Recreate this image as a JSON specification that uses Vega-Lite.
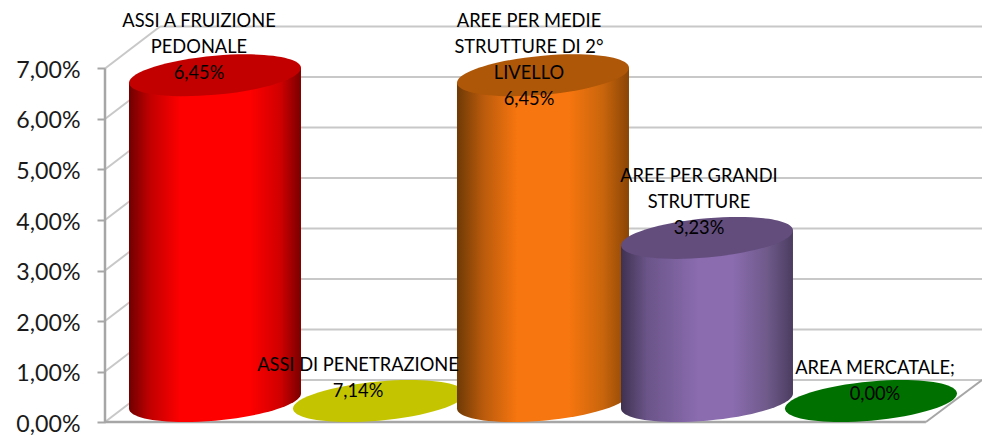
{
"$schema":"https://vega.github.io/schema/vega-lite/v6.json",
"width":877,"height":435,"padding":{"left":105,"top":0,"right":0,"bottom":0},"autosize":{"type":"none"},
"background":"white",
"config":{"view":{"stroke":null},"axisY":{"domain":false,"grid":false,"title":null,"labelFont":"Lato","labelFontSize":23.2,"labelOffset":2,"labelColor":"#1a1a1a","labelPadding":17,"labelFlush":false,"labelOverlap":false,"tickSize":8,"tickWidth":2,"tickColor":"#a6a6a6"}},
"datasets":{
"bars":[
{"i":0,"name":"ASSI A FRUIZIONE PEDONALE","v":6.45,"label":"ASSI A FRUIZIONE\nPEDONALE\n6,45%"},
{"i":1,"name":"ASSI DI PENETRAZIONE","v":0,"label":"ASSI DI  PENETRAZIONE\n7,14%"},
{"i":2,"name":"AREE PER MEDIE STRUTTURE DI 2° LIVELLO","v":6.45,"label":"AREE PER MEDIE\nSTRUTTURE DI 2°\nLIVELLO\n6,45%"},
{"i":3,"name":"AREE PER GRANDI STRUTTURE","v":3.23,"label":"AREE PER GRANDI\nSTRUTTURE\n3,23%"},
{"i":4,"name":"AREA MERCATALE","v":0,"label":"AREA MERCATALE;\n0,00%"}
],
"grid":[{"t":0},{"t":1},{"t":2},{"t":3},{"t":4},{"t":5},{"t":6},{"t":7}]
},
"layer":[
{"data":{"name":"grid"},"mark":{"type":"rule","color":"#c8c8c8","strokeWidth":2,"yOffset":-42},
 "encoding":{
  "x":{"datum":-0.335,"type":"quantitative","scale":{"domain":[-0.6707,4.677],"nice":false,"zero":false},"axis":null},
  "x2":{"datum":4.677},
  "y":{"field":"t","type":"quantitative","title":null,"scale":{"domain":[-0.257,8.356],"nice":false,"zero":false},
   "axis":{"values":[0,1,2,3,4,5,6,7],"title":null,"labelExpr":"replace(format(datum.value,'.2f'),'.',',')+'%'"}}
 }},
{"data":{"name":"grid"},"transform":[{"calculate":"datum.t+0.832","as":"back"}],"mark":{"type":"rule","color":"#c8c8c8","strokeWidth":2},
 "encoding":{"x":{"datum":-0.6707,"type":"quantitative","axis":null},"x2":{"datum":-0.335},
  "y":{"field":"t","type":"quantitative","title":null},"y2":{"field":"back"}}},
{"data":{"values":[{}]},"mark":{"type":"rule","color":"#a6a6a6","strokeWidth":2.5},
 "encoding":{"x":{"datum":-0.6707,"type":"quantitative","axis":null},"y":{"datum":0,"type":"quantitative","title":null},"y2":{"datum":7}}},
{"data":{"values":[{}]},"mark":{"type":"rule","color":"#a6a6a6","strokeWidth":2.5},
 "encoding":{"x":{"datum":-0.6707,"type":"quantitative","axis":null},"x2":{"datum":4.335},"y":{"datum":0,"type":"quantitative","title":null}}},
{"data":{"values":[{}]},"mark":{"type":"rule","color":"#a6a6a6","strokeWidth":2},
 "encoding":{"x":{"datum":4.335,"type":"quantitative","axis":null},"x2":{"datum":4.677},"y":{"datum":0,"type":"quantitative","title":null},"y2":{"datum":0.832}}},

{"data":{"name":"bars"},"transform":[{"filter":"datum.i==0"}],
 "mark":{"type":"point","filled":true,"opacity":1,"size":29584,"yOffset":-21,"shape":"M1,-.087 C1,.0389 .5523,.18 0,.228 C-.5523,.276 -1,.2129 -1,.087 C-1,-.0389 -.5523,-.18 0,-.228 C.5523,-.276 1,-.2129 1,-.087Z",
  "fill":{"gradient":"linear","x1":0,"y1":0,"x2":1,"y2":0,"stops":[{"offset":0,"color":"#700000"},{"offset":0.12,"color":"#c00000"},{"offset":0.3,"color":"#ff0000"},{"offset":0.7,"color":"#ff0000"},{"offset":0.88,"color":"#d00000"},{"offset":1,"color":"#7a0000"}]}},
 "encoding":{"x":{"field":"i","type":"quantitative","axis":null},"y":{"datum":0,"type":"quantitative","title":null}}},
{"data":{"name":"bars"},"transform":[{"filter":"datum.i==0"},{"calculate":"[-1,1]","as":"side"},{"flatten":["side"]},{"calculate":"datum.i+datum.side*0.5244","as":"xp"},{"calculate":"datum.v+0.416+datum.side*0.1485","as":"ytop"},{"calculate":"0.416+datum.side*0.1485","as":"ybot"}],
 "mark":{"type":"area","orient":"vertical","opacity":1,
  "fill":{"gradient":"linear","x1":0,"y1":0,"x2":1,"y2":0,"stops":[{"offset":0,"color":"#700000"},{"offset":0.12,"color":"#c00000"},{"offset":0.3,"color":"#ff0000"},{"offset":0.7,"color":"#ff0000"},{"offset":0.88,"color":"#d00000"},{"offset":1,"color":"#7a0000"}]}},
 "encoding":{"x":{"field":"xp","type":"quantitative","axis":null},"y":{"field":"ytop","type":"quantitative","title":null},"y2":{"field":"ybot"}}},
{"data":{"name":"bars"},"transform":[{"filter":"datum.i==0"}],
 "mark":{"type":"point","filled":true,"opacity":1,"fill":"#c20000","size":29584,"yOffset":-21,"shape":"M1,-.087 C1,.0389 .5523,.18 0,.228 C-.5523,.276 -1,.2129 -1,.087 C-1,-.0389 -.5523,-.18 0,-.228 C.5523,-.276 1,-.2129 1,-.087Z"},
 "encoding":{"x":{"field":"i","type":"quantitative","axis":null},"y":{"field":"v","type":"quantitative","title":null}}},

{"data":{"name":"bars"},"transform":[{"filter":"datum.i==1"}],
 "mark":{"type":"point","filled":true,"opacity":1,"fill":"#c4c400","size":29584,"yOffset":-21,"shape":"M1,-.087 C1,.0389 .5523,.18 0,.228 C-.5523,.276 -1,.2129 -1,.087 C-1,-.0389 -.5523,-.18 0,-.228 C.5523,-.276 1,-.2129 1,-.087Z"},
 "encoding":{"x":{"field":"i","type":"quantitative","axis":null},"y":{"field":"v","type":"quantitative","title":null}}},

{"data":{"name":"bars"},"transform":[{"filter":"datum.i==2"}],
 "mark":{"type":"point","filled":true,"opacity":1,"size":29584,"yOffset":-21,"shape":"M1,-.087 C1,.0389 .5523,.18 0,.228 C-.5523,.276 -1,.2129 -1,.087 C-1,-.0389 -.5523,-.18 0,-.228 C.5523,-.276 1,-.2129 1,-.087Z",
  "fill":{"gradient":"linear","x1":0,"y1":0,"x2":1,"y2":0,"stops":[{"offset":0,"color":"#6e3a05"},{"offset":0.15,"color":"#b85a0c"},{"offset":0.35,"color":"#f7760f"},{"offset":0.65,"color":"#f7760f"},{"offset":0.85,"color":"#c8650c"},{"offset":1,"color":"#8a4505"}]}},
 "encoding":{"x":{"field":"i","type":"quantitative","axis":null},"y":{"datum":0,"type":"quantitative","title":null}}},
{"data":{"name":"bars"},"transform":[{"filter":"datum.i==2"},{"calculate":"[-1,1]","as":"side"},{"flatten":["side"]},{"calculate":"datum.i+datum.side*0.5244","as":"xp"},{"calculate":"datum.v+0.416+datum.side*0.1485","as":"ytop"},{"calculate":"0.416+datum.side*0.1485","as":"ybot"}],
 "mark":{"type":"area","orient":"vertical","opacity":1,
  "fill":{"gradient":"linear","x1":0,"y1":0,"x2":1,"y2":0,"stops":[{"offset":0,"color":"#6e3a05"},{"offset":0.15,"color":"#b85a0c"},{"offset":0.35,"color":"#f7760f"},{"offset":0.65,"color":"#f7760f"},{"offset":0.85,"color":"#c8650c"},{"offset":1,"color":"#8a4505"}]}},
 "encoding":{"x":{"field":"xp","type":"quantitative","axis":null},"y":{"field":"ytop","type":"quantitative","title":null},"y2":{"field":"ybot"}}},
{"data":{"name":"bars"},"transform":[{"filter":"datum.i==2"}],
 "mark":{"type":"point","filled":true,"opacity":1,"fill":"#ae5708","size":29584,"yOffset":-21,"shape":"M1,-.087 C1,.0389 .5523,.18 0,.228 C-.5523,.276 -1,.2129 -1,.087 C-1,-.0389 -.5523,-.18 0,-.228 C.5523,-.276 1,-.2129 1,-.087Z"},
 "encoding":{"x":{"field":"i","type":"quantitative","axis":null},"y":{"field":"v","type":"quantitative","title":null}}},

{"data":{"name":"bars"},"transform":[{"filter":"datum.i==3"}],
 "mark":{"type":"point","filled":true,"opacity":1,"size":29584,"yOffset":-21,"shape":"M1,-.087 C1,.0389 .5523,.18 0,.228 C-.5523,.276 -1,.2129 -1,.087 C-1,-.0389 -.5523,-.18 0,-.228 C.5523,-.276 1,-.2129 1,-.087Z",
  "fill":{"gradient":"linear","x1":0,"y1":0,"x2":1,"y2":0,"stops":[{"offset":0,"color":"#3f3150"},{"offset":0.15,"color":"#6a5488"},{"offset":0.45,"color":"#8a6caf"},{"offset":0.65,"color":"#8a6caf"},{"offset":0.85,"color":"#6f5a8a"},{"offset":1,"color":"#4b3c60"}]}},
 "encoding":{"x":{"field":"i","type":"quantitative","axis":null},"y":{"datum":0,"type":"quantitative","title":null}}},
{"data":{"name":"bars"},"transform":[{"filter":"datum.i==3"},{"calculate":"[-1,1]","as":"side"},{"flatten":["side"]},{"calculate":"datum.i+datum.side*0.5244","as":"xp"},{"calculate":"datum.v+0.416+datum.side*0.1485","as":"ytop"},{"calculate":"0.416+datum.side*0.1485","as":"ybot"}],
 "mark":{"type":"area","orient":"vertical","opacity":1,
  "fill":{"gradient":"linear","x1":0,"y1":0,"x2":1,"y2":0,"stops":[{"offset":0,"color":"#3f3150"},{"offset":0.15,"color":"#6a5488"},{"offset":0.45,"color":"#8a6caf"},{"offset":0.65,"color":"#8a6caf"},{"offset":0.85,"color":"#6f5a8a"},{"offset":1,"color":"#4b3c60"}]}},
 "encoding":{"x":{"field":"xp","type":"quantitative","axis":null},"y":{"field":"ytop","type":"quantitative","title":null},"y2":{"field":"ybot"}}},
{"data":{"name":"bars"},"transform":[{"filter":"datum.i==3"}],
 "mark":{"type":"point","filled":true,"opacity":1,"fill":"#634d7d","size":29584,"yOffset":-21,"shape":"M1,-.087 C1,.0389 .5523,.18 0,.228 C-.5523,.276 -1,.2129 -1,.087 C-1,-.0389 -.5523,-.18 0,-.228 C.5523,-.276 1,-.2129 1,-.087Z"},
 "encoding":{"x":{"field":"i","type":"quantitative","axis":null},"y":{"field":"v","type":"quantitative","title":null}}},

{"data":{"name":"bars"},"transform":[{"filter":"datum.i==4"}],
 "mark":{"type":"point","filled":true,"opacity":1,"fill":"#007000","size":29584,"yOffset":-21,"shape":"M1,-.087 C1,.0389 .5523,.18 0,.228 C-.5523,.276 -1,.2129 -1,.087 C-1,-.0389 -.5523,-.18 0,-.228 C.5523,-.276 1,-.2129 1,-.087Z"},
 "encoding":{"x":{"field":"i","type":"quantitative","axis":null},"y":{"field":"v","type":"quantitative","title":null}}},

{"data":{"name":"bars"},"transform":[{"filter":"datum.i==0"}],"mark":{"type":"text","font":"Lato","fontSize":18.3,"color":"#000000","lineBreak":"\n","lineHeight":26,"baseline":"middle","dx":-16,"dy":-74},
 "encoding":{"x":{"field":"i","type":"quantitative","axis":null},"y":{"field":"v","type":"quantitative","title":null},"text":{"field":"label"}}},
{"data":{"name":"bars"},"transform":[{"filter":"datum.i==1"}],"mark":{"type":"text","font":"Lato","fontSize":18.3,"color":"#000000","lineBreak":"\n","lineHeight":26,"baseline":"middle","dx":-21,"dy":-56},
 "encoding":{"x":{"field":"i","type":"quantitative","axis":null},"y":{"field":"v","type":"quantitative","title":null},"text":{"field":"label"}}},
{"data":{"name":"bars"},"transform":[{"filter":"datum.i==2"}],"mark":{"type":"text","font":"Lato","fontSize":18.3,"color":"#000000","lineBreak":"\n","lineHeight":26,"baseline":"middle","dx":-14,"dy":-74},
 "encoding":{"x":{"field":"i","type":"quantitative","axis":null},"y":{"field":"v","type":"quantitative","title":null},"text":{"field":"label"}}},
{"data":{"name":"bars"},"transform":[{"filter":"datum.i==3"}],"mark":{"type":"text","font":"Lato","fontSize":18.3,"color":"#000000","lineBreak":"\n","lineHeight":26,"baseline":"middle","dx":-8,"dy":-82},
 "encoding":{"x":{"field":"i","type":"quantitative","axis":null},"y":{"field":"v","type":"quantitative","title":null},"text":{"field":"label"}}},
{"data":{"name":"bars"},"transform":[{"filter":"datum.i==4"}],"mark":{"type":"text","font":"Lato","fontSize":18.3,"color":"#000000","lineBreak":"\n","lineHeight":26,"baseline":"middle","dx":4,"dy":-53},
 "encoding":{"x":{"field":"i","type":"quantitative","axis":null},"y":{"field":"v","type":"quantitative","title":null},"text":{"field":"label"}}}
]
}
